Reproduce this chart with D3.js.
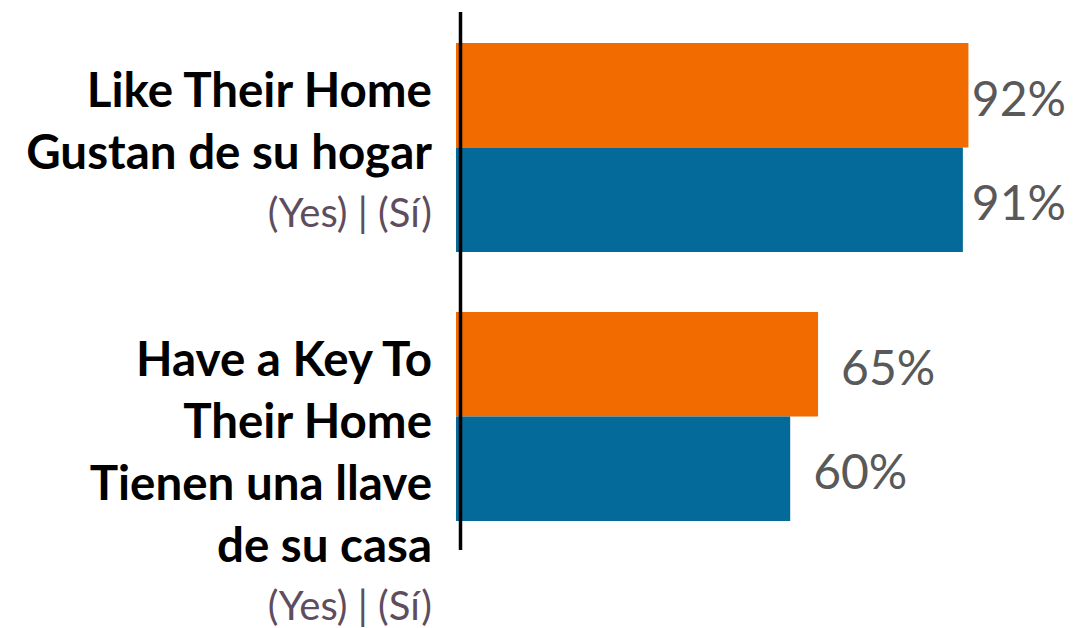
<!DOCTYPE html>
<html>
<head>
<meta charset="utf-8">
<script src="https://cdn.jsdelivr.net/npm/d3@7"></script>
<style>
html,body{margin:0;padding:0;background:#fff;}
svg{display:block;}
</style>
</head>
<body>
<svg id="chart" width="1076" height="628"></svg>
<script>
const categories = ["like", "key"];
const categoryLines = [
  ["Like Their Home", "Gustan de su hogar"],
  ["Have a Key To", "Their Home", "Tienen una llave", "de su casa"]
];
const categorySub = ["(Yes) | (Sí)", "(Yes) | (Sí)"];
const seriesNames = ["A", "B"];
const seriesColors = ["#F26B00", "#046A99"];
const valuesA = [92, 65];
const valuesB = [91, 60];
const valueSuffix = "%";

const svg = d3.select("#chart");

const x = d3.scaleLinear().domain([0, 100]).range([456, 1013]);
const y = d3.scaleBand().domain(categories).range([43, 521]).paddingInner(0.223).paddingOuter(0);
const ySub = d3.scaleBand().domain(seriesNames).range([0, y.bandwidth()]).padding(0);

const data = [];
categories.forEach((c, i) => {
  data.push({cat: c, s: "A", v: valuesA[i], color: seriesColors[0]});
  data.push({cat: c, s: "B", v: valuesB[i], color: seriesColors[1]});
});

svg.append("g").selectAll("rect").data(data).join("rect")
  .attr("x", x(0))
  .attr("y", d => y(d.cat) + ySub(d.s))
  .attr("width", d => x(d.v) - x(0))
  .attr("height", ySub.bandwidth())
  .attr("fill", d => d.color);

// axis line
svg.append("line")
  .attr("x1", x(0) + 4.5).attr("x2", x(0) + 4.5)
  .attr("y1", 12).attr("y2", 550)
  .attr("stroke", "#000").attr("stroke-width", 3.5);

// value labels
const vl = svg.append("g").selectAll("text").data(data).join("text")
  .attr("font-family", "Lato, 'Open Sans', sans-serif")
  .attr("font-size", 48)
  .attr("fill", "#595959")
  .attr("dominant-baseline", "central")
  .attr("y", d => y(d.cat) + ySub(d.s) + ySub.bandwidth() / 2 + 2)
  .text(d => d.v + valueSuffix);
vl.each(function(d) {
  const w = this.getComputedTextLength();
  const px = Math.min(x(d.v) + 23, 1066 - w);
  d3.select(this).attr("x", px);
});

// category labels
const labelX = 432;
categories.forEach((c, i) => {
  const top = y(c);
  const g = svg.append("g");
  const lines = categoryLines[i];
  lines.forEach((ln, j) => {
    g.append("text")
      .attr("x", labelX)
      .attr("y", top + 64 + j * 62)
      .attr("text-anchor", "end")
      .attr("font-family", "Lato, sans-serif")
      .attr("font-weight", "bold")
      .attr("font-size", 47.5)
      .attr("fill", "#000")
      .text(ln);
  });
  g.append("text")
    .attr("x", labelX)
    .attr("y", top + 64 + (lines.length - 1) * 62 + 58)
    .attr("text-anchor", "end")
    .attr("font-family", "Lato, sans-serif")
    .attr("font-size", 40)
    .attr("fill", "#5e4d5e")
    .text(categorySub[i]);
});
</script>
</body>
</html>
